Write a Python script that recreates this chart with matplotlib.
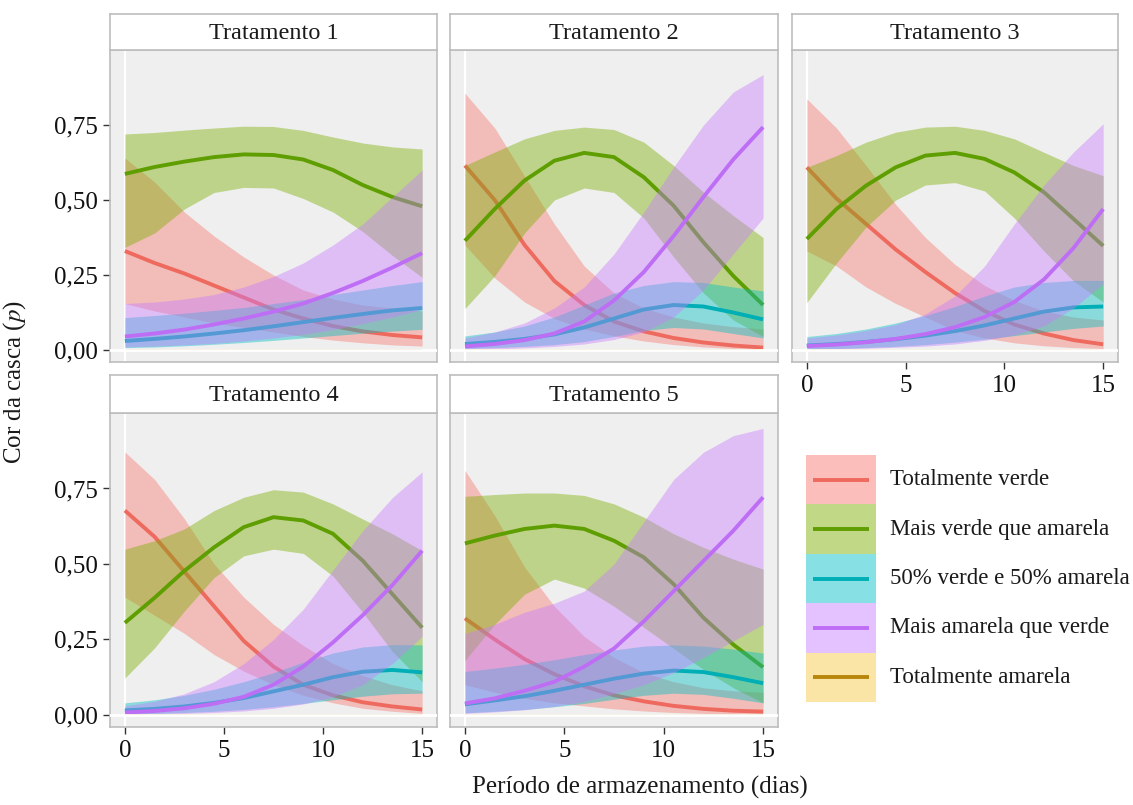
import matplotlib.pyplot as plt
from matplotlib.patches import Rectangle

plt.rcParams['font.family'] = ['Liberation Serif', 'DejaVu Serif']
plt.rcParams['mathtext.fontset'] = 'stix'

# dados (probabilidade estimada e intervalo)
dias = [0, 1.5, 3, 4.5, 6, 7.5, 9, 10.5, 12, 13.5, 15]
categorias = ['Totalmente verde', 'Mais verde que amarela', '50% verde e 50% amarela',
              'Mais amarela que verde', 'Totalmente amarela']
tratamentos = ['Tratamento 1', 'Tratamento 2', 'Tratamento 3', 'Tratamento 4', 'Tratamento 5']

# ordem das linhas: verde, mais verde, 50/50, mais amarela, amarela
t1_p = [[0.33, 0.29, 0.255, 0.215, 0.175, 0.135, 0.105, 0.08, 0.062, 0.05, 0.042],
        [0.587, 0.61, 0.628, 0.643, 0.652, 0.65, 0.635, 0.60, 0.55, 0.51, 0.479],
        [0.03, 0.037, 0.045, 0.055, 0.066, 0.079, 0.093, 0.107, 0.12, 0.132, 0.14],
        [0.045, 0.055, 0.068, 0.085, 0.105, 0.128, 0.155, 0.19, 0.23, 0.275, 0.323],
        [0.0, 0.0, 0.0, 0.0, 0.0, 0.0, 0.0, 0.0, 0.0, 0.0, 0.0]]
t1_lo = [[0.155, 0.13, 0.11, 0.09, 0.075, 0.06, 0.045, 0.033, 0.024, 0.017, 0.013],
         [0.342, 0.39, 0.47, 0.525, 0.542, 0.54, 0.505, 0.46, 0.395, 0.315, 0.242],
         [0.008, 0.01, 0.014, 0.019, 0.025, 0.032, 0.04, 0.048, 0.056, 0.063, 0.069],
         [0.01, 0.013, 0.017, 0.022, 0.03, 0.04, 0.052, 0.068, 0.088, 0.11, 0.135],
         [0.0, 0.0, 0.0, 0.0, 0.0, 0.0, 0.0, 0.0, 0.0, 0.0, 0.0]]
t1_hi = [[0.64, 0.56, 0.46, 0.38, 0.31, 0.25, 0.2, 0.17, 0.15, 0.14, 0.13],
         [0.72, 0.725, 0.733, 0.74, 0.746, 0.745, 0.732, 0.71, 0.69, 0.677, 0.67],
         [0.108, 0.115, 0.123, 0.132, 0.142, 0.155, 0.168, 0.185, 0.2, 0.215, 0.228],
         [0.155, 0.16, 0.17, 0.185, 0.21, 0.245, 0.29, 0.35, 0.42, 0.51, 0.60],
         [0.0, 0.0, 0.0, 0.0, 0.0, 0.0, 0.0, 0.0, 0.0, 0.0, 0.0]]

t2_p = [[0.615, 0.5, 0.35, 0.23, 0.15, 0.095, 0.062, 0.04, 0.025, 0.015, 0.008],
        [0.364, 0.47, 0.565, 0.631, 0.657, 0.643, 0.576, 0.481, 0.359, 0.247, 0.15],
        [0.02, 0.027, 0.037, 0.052, 0.075, 0.105, 0.135, 0.15, 0.145, 0.125, 0.102],
        [0.012, 0.02, 0.033, 0.055, 0.095, 0.165, 0.26, 0.38, 0.51, 0.635, 0.743],
        [0.0, 0.0, 0.0, 0.0, 0.0, 0.0, 0.0, 0.0, 0.0, 0.0, 0.0]]
t2_lo = [[0.35, 0.24, 0.16, 0.105, 0.07, 0.047, 0.03, 0.018, 0.01, 0.005, 0.002],
         [0.138, 0.247, 0.39, 0.5, 0.54, 0.525, 0.44, 0.31, 0.19, 0.1, 0.045],
         [0.005, 0.008, 0.012, 0.018, 0.028, 0.045, 0.065, 0.075, 0.07, 0.055, 0.04],
         [0.002, 0.004, 0.007, 0.012, 0.02, 0.035, 0.06, 0.11, 0.2, 0.32, 0.44],
         [0.0, 0.0, 0.0, 0.0, 0.0, 0.0, 0.0, 0.0, 0.0, 0.0, 0.0]]
t2_hi = [[0.856, 0.74, 0.58, 0.42, 0.28, 0.19, 0.14, 0.11, 0.09, 0.078, 0.07],
         [0.615, 0.66, 0.704, 0.732, 0.743, 0.735, 0.693, 0.615, 0.526, 0.448, 0.375],
         [0.047, 0.06, 0.08, 0.11, 0.15, 0.19, 0.215, 0.228, 0.225, 0.21, 0.197],
         [0.04, 0.06, 0.09, 0.14, 0.21, 0.32, 0.46, 0.61, 0.75, 0.86, 0.918],
         [0.0, 0.0, 0.0, 0.0, 0.0, 0.0, 0.0, 0.0, 0.0, 0.0, 0.0]]

t3_p = [[0.609, 0.505, 0.42, 0.335, 0.26, 0.19, 0.13, 0.085, 0.055, 0.033, 0.019],
        [0.37, 0.47, 0.548, 0.609, 0.648, 0.657, 0.637, 0.592, 0.526, 0.437, 0.347],
        [0.015, 0.02, 0.027, 0.036, 0.048, 0.063, 0.082, 0.105, 0.128, 0.142, 0.145],
        [0.013, 0.018, 0.026, 0.037, 0.053, 0.076, 0.11, 0.16, 0.235, 0.34, 0.47],
        [0.0, 0.0, 0.0, 0.0, 0.0, 0.0, 0.0, 0.0, 0.0, 0.0, 0.0]]
t3_lo = [[0.33, 0.28, 0.21, 0.155, 0.11, 0.065, 0.04, 0.024, 0.014, 0.008, 0.005],
         [0.158, 0.29, 0.41, 0.5, 0.55, 0.558, 0.53, 0.44, 0.33, 0.23, 0.16],
         [0.003, 0.005, 0.008, 0.012, 0.018, 0.026, 0.036, 0.048, 0.06, 0.072, 0.08],
         [0.003, 0.004, 0.006, 0.009, 0.013, 0.02, 0.032, 0.05, 0.08, 0.14, 0.22],
         [0.0, 0.0, 0.0, 0.0, 0.0, 0.0, 0.0, 0.0, 0.0, 0.0, 0.0]]
t3_hi = [[0.837, 0.74, 0.615, 0.485, 0.375, 0.285, 0.215, 0.165, 0.13, 0.11, 0.1],
         [0.609, 0.648, 0.693, 0.726, 0.743, 0.746, 0.732, 0.704, 0.659, 0.615, 0.581],
         [0.045, 0.055, 0.07, 0.09, 0.115, 0.145, 0.18, 0.21, 0.225, 0.232, 0.232],
         [0.04, 0.05, 0.065, 0.085, 0.12, 0.18, 0.28, 0.42, 0.55, 0.66, 0.754],
         [0.0, 0.0, 0.0, 0.0, 0.0, 0.0, 0.0, 0.0, 0.0, 0.0, 0.0]]

t4_p = [[0.677, 0.59, 0.475, 0.36, 0.245, 0.16, 0.1, 0.065, 0.042, 0.028, 0.018],
        [0.305, 0.388, 0.477, 0.555, 0.622, 0.655, 0.644, 0.6, 0.511, 0.4, 0.289],
        [0.015, 0.02, 0.028, 0.04, 0.056, 0.078, 0.1, 0.125, 0.143, 0.149, 0.141],
        [0.008, 0.013, 0.022, 0.037, 0.06, 0.1, 0.16, 0.24, 0.33, 0.43, 0.544],
        [0.0, 0.0, 0.0, 0.0, 0.0, 0.0, 0.0, 0.0, 0.0, 0.0, 0.0]]
t4_lo = [[0.39, 0.33, 0.27, 0.2, 0.145, 0.1, 0.065, 0.04, 0.022, 0.012, 0.005],
         [0.122, 0.222, 0.344, 0.455, 0.527, 0.549, 0.535, 0.46, 0.34, 0.21, 0.11],
         [0.003, 0.005, 0.008, 0.012, 0.018, 0.027, 0.038, 0.05, 0.062, 0.07, 0.072],
         [0.002, 0.003, 0.005, 0.008, 0.013, 0.022, 0.036, 0.06, 0.1, 0.17, 0.26],
         [0.0, 0.0, 0.0, 0.0, 0.0, 0.0, 0.0, 0.0, 0.0, 0.0, 0.0]]
t4_hi = [[0.871, 0.78, 0.65, 0.5, 0.39, 0.3, 0.23, 0.17, 0.13, 0.1, 0.08],
         [0.549, 0.577, 0.616, 0.677, 0.721, 0.746, 0.738, 0.699, 0.649, 0.6, 0.544],
         [0.04, 0.05, 0.065, 0.085, 0.11, 0.14, 0.175, 0.205, 0.225, 0.233, 0.232],
         [0.03, 0.045, 0.07, 0.11, 0.17, 0.25, 0.35, 0.48, 0.61, 0.72, 0.805],
         [0.0, 0.0, 0.0, 0.0, 0.0, 0.0, 0.0, 0.0, 0.0, 0.0, 0.0]]

t5_p = [[0.32, 0.25, 0.185, 0.135, 0.095, 0.065, 0.045, 0.03, 0.02, 0.014, 0.011],
        [0.568, 0.594, 0.616, 0.627, 0.616, 0.577, 0.522, 0.433, 0.322, 0.233, 0.158],
        [0.035, 0.048, 0.062, 0.08, 0.1, 0.12, 0.137, 0.147, 0.142, 0.125, 0.105],
        [0.038, 0.055, 0.08, 0.11, 0.16, 0.22, 0.31, 0.41, 0.51, 0.61, 0.721],
        [0.0, 0.0, 0.0, 0.0, 0.0, 0.0, 0.0, 0.0, 0.0, 0.0, 0.0]]
t5_lo = [[0.1, 0.075, 0.055, 0.04, 0.03, 0.02, 0.013, 0.008, 0.005, 0.003, 0.002],
         [0.18, 0.3, 0.4, 0.45, 0.42, 0.36, 0.29, 0.22, 0.15, 0.09, 0.04],
         [0.007, 0.012, 0.018, 0.027, 0.038, 0.052, 0.065, 0.072, 0.068, 0.055, 0.04],
         [0.005, 0.01, 0.017, 0.028, 0.045, 0.07, 0.1, 0.14, 0.19, 0.245, 0.3],
         [0.0, 0.0, 0.0, 0.0, 0.0, 0.0, 0.0, 0.0, 0.0, 0.0, 0.0]]
t5_hi = [[0.81, 0.66, 0.49, 0.36, 0.26, 0.19, 0.14, 0.11, 0.09, 0.08, 0.075],
         [0.724, 0.73, 0.735, 0.735, 0.727, 0.699, 0.655, 0.6, 0.555, 0.516, 0.483],
         [0.144, 0.155, 0.168, 0.183, 0.2, 0.215, 0.228, 0.232, 0.228, 0.218, 0.205],
         [0.27, 0.3, 0.34, 0.37, 0.41, 0.5, 0.64, 0.78, 0.87, 0.925, 0.949],
         [0.0, 0.0, 0.0, 0.0, 0.0, 0.0, 0.0, 0.0, 0.0, 0.0, 0.0]]

yticks = [0, 0.25, 0.5, 0.75]
ytick_labels = ['0,00', '0,25', '0,50', '0,75']
xticks = [0, 5, 10, 15]

fill_cols = ['#F8766D', '#7CAE00', '#00BFC4', '#C77CFF', '#F5C842']
line_cols = ['#EE6A5F', '#5E9E00', '#00AEB5', '#BE6EF5', '#B8860B']
ALPHA = 0.42
FS_TICK = 18
FS_STRIP = 17.5
FS_LAB = 18
FS_LEG = 16.5

W, H = 1133, 805
fig = plt.figure(figsize=(W / 100, H / 100), dpi=100)


def px_axes(x0, y0, x1, y1):
    return fig.add_axes([x0 / W, 1 - y1 / H, (x1 - x0) / W, (y1 - y0) / H])


# (x0, y0_strip, y0_plot, x1, y1) em pixels
boxes = [(110, 14, 50, 437, 362), (450, 14, 50, 778, 362), (792, 14, 50, 1118, 362),
         (110, 375, 413, 437, 727), (450, 375, 413, 778, 727)]
dados = [(t1_p, t1_lo, t1_hi), (t2_p, t2_lo, t2_hi), (t3_p, t3_lo, t3_hi),
         (t4_p, t4_lo, t4_hi), (t5_p, t5_lo, t5_hi)]
show_y = [True, False, False, True, False]
show_x = [False, False, True, True, True]

for k, (x0, ys, yp, x1, y1) in enumerate(boxes):
    ax = px_axes(x0, yp, x1, y1)
    ax.set_facecolor('#EFEFEF')
    p, lo, hi = dados[k]
    ax.axvline(0, color='white', lw=1.6, zorder=0.5)
    for i in range(len(categorias)):
        ax.fill_between(dias, lo[i], hi[i], color=fill_cols[i], alpha=ALPHA, lw=0, zorder=1 + 2 * i)
        # a ultima categoria fica em zero, escondida sob a linha branca
        ax.plot(dias, p[i], color=line_cols[i], lw=2.8 if i < 4 else 1.4,
                zorder=2 + 2 * i, solid_capstyle='butt')
    ax.axhline(0, color='white', lw=2.0, zorder=20)
    ax.set_xlim(-0.75, 15.75)
    ax.set_ylim(-0.04, 1.0)
    ax.set_xticks(xticks)
    ax.set_xticklabels([str(v) for v in xticks])
    ax.set_yticks(yticks)
    ax.set_yticklabels(ytick_labels)
    ax.tick_params(length=5, width=1, color='#333333', labelsize=FS_TICK, labelcolor='#111111', pad=4)
    if not show_y[k]:
        ax.tick_params(left=False, labelleft=False)
    if not show_x[k]:
        ax.tick_params(bottom=False, labelbottom=False)
    for s in ax.spines.values():
        s.set_color('#BDBDBD')
        s.set_linewidth(1.2)

    st = px_axes(x0, ys, x1, yp)
    st.set_facecolor('white')
    st.set_xticks([])
    st.set_yticks([])
    for s in st.spines.values():
        s.set_color('#BDBDBD')
        s.set_linewidth(1.2)
    st.text(0.5, 0.47, tratamentos[k], ha='center', va='center', fontsize=FS_STRIP, color='#1a1a1a',
            transform=st.transAxes)

# legenda
lg = px_axes(806, 455, 876, 702)
lg.set_xlim(0, 1)
lg.set_ylim(len(categorias), 0)
lg.axis('off')
for i, nome in enumerate(categorias):
    lg.add_patch(Rectangle((0, i), 1, 1, facecolor=fill_cols[i], alpha=ALPHA + 0.05,
                           edgecolor='none'))
    lg.plot([0.1, 0.9], [i + 0.5, i + 0.5], color=line_cols[i], lw=2.8, solid_capstyle='butt')
    lg.text(1.2, i + 0.5, nome, ha='left', va='center', fontsize=FS_LEG, color='#1a1a1a',
            clip_on=False)

fig.text(15 / W, 1 - 382 / H, 'Cor da casca ($\\mathit{p}$)', rotation=90, ha='center',
         va='center', fontsize=FS_LAB, color='#1a1a1a')
fig.text(640 / W, 1 - 787 / H, 'Período de armazenamento (dias)', ha='center', va='center',
         fontsize=FS_LAB, color='#1a1a1a')

fig.savefig('out.png', dpi=100)
